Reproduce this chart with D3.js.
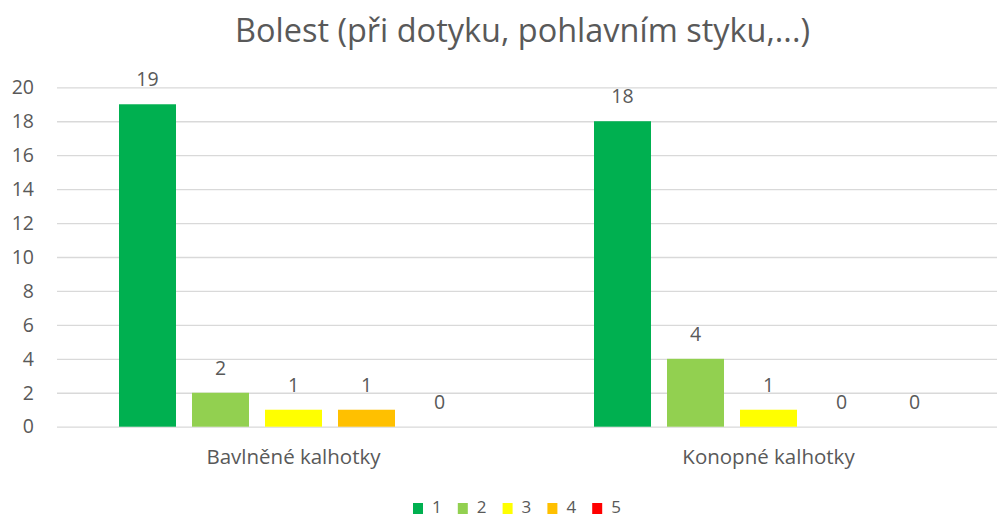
<!DOCTYPE html>
<html><head><meta charset="utf-8">
<script src="https://cdn.jsdelivr.net/npm/d3@7"></script>
<style>body{margin:0;background:#fff}svg{display:block}text{font-family:"Open Sans",sans-serif;fill:#595959}</style>
</head><body><svg id="c" width="997" height="517"></svg>
<script>
const title = "Bolest (při dotyku, pohlavním styku,...)";
const categories = ["Bavlněné kalhotky", "Konopné kalhotky"];
const seriesNames = ["1", "2", "3", "4", "5"];
const seriesColors = ["#00B050", "#92D050", "#FFFF00", "#FFC000", "#FF0000"];
const values1 = [19, 18];
const values2 = [2, 4];
const values3 = [1, 1];
const values4 = [1, 0];
const values5 = [0, 0];
const yTicks = [0, 2, 4, 6, 8, 10, 12, 14, 16, 18, 20];

const series = [values1, values2, values3, values4, values5];
const svg = d3.select("#c");
const W = 997;
const x0 = d3.scaleBand().domain(categories).range([56, 1006]).padding(0);
const groupW = 349;
const x1 = d3.scaleBand().domain(seriesNames).range([0, groupW]).paddingInner(16/73).paddingOuter(0);
const y = d3.scaleLinear().domain([0, 20]).range([426.7, 87.3]);

// gridlines
const gy = svg.append("g").attr("transform", "translate(57,0)")
  .call(d3.axisLeft(y).tickValues(yTicks).tickSize(-(W - 57)).tickFormat(""));
gy.select(".domain").remove();
gy.selectAll("line").attr("stroke", "#d9d9d9").attr("stroke-width", 1.3);

// y labels
const ya = svg.append("g").attr("transform", "translate(34,0)")
  .call(d3.axisLeft(y).tickValues(yTicks).tickSize(0).tickPadding(0));
ya.select(".domain").remove();
ya.selectAll("text").attr("font-size", 19.5).attr("fill", "#595959").style("font-family", '"Open Sans",sans-serif');

// bars
const groups = svg.append("g").selectAll("g").data(categories).join("g")
  .attr("transform", d => `translate(${x0(d) + (x0.bandwidth() - groupW) / 2},0)`);
groups.each(function(cat, ci) {
  const g = d3.select(this);
  seriesNames.forEach((s, si) => {
    const v = series[si][ci];
    g.append("rect").attr("x", x1(s)).attr("width", x1.bandwidth())
      .attr("y", y(v)).attr("height", y(0) - y(v)).attr("fill", seriesColors[si]);
    g.append("text").attr("x", x1(s) + x1.bandwidth() / 2).attr("y", y(v) - 18)
      .attr("text-anchor", "middle").attr("font-size", 19.5).text(v);
  });
});

// category labels
svg.append("g").selectAll("text").data(categories).join("text")
  .attr("x", d => x0(d) + x0.bandwidth() / 2).attr("y", 464)
  .attr("text-anchor", "middle").attr("font-size", 20.5).text(d => d);

// title
svg.append("text").attr("x", 522.5).attr("y", 42).attr("text-anchor", "middle")
  .attr("font-size", 32).attr("textLength", 575).attr("lengthAdjust", "spacingAndGlyphs").text(title);

// legend
const leg = svg.append("g").selectAll("g").data(seriesNames).join("g")
  .attr("transform", (d, i) => `translate(${413 + i * 44.8},0)`);
leg.append("rect").attr("x", 0).attr("y", 503).attr("width", 10).attr("height", 11)
  .attr("fill", (d, i) => seriesColors[i]);
leg.append("text").attr("x", 19).attr("y", 513).attr("font-size", 17).text(d => d);
</script></body></html>
